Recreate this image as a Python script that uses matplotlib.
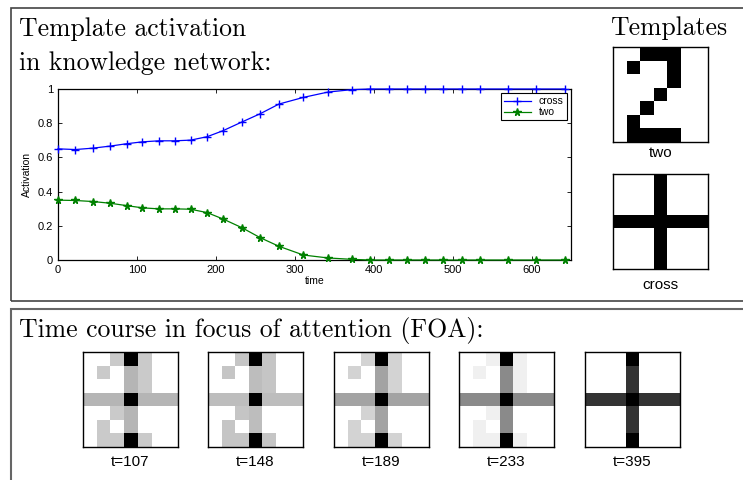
import numpy as np
import matplotlib
matplotlib.use("Agg")
from matplotlib import pyplot as plt
from matplotlib.patches import Rectangle

# activation curves
time = [0, 22, 44, 66, 87, 107, 128, 148, 168, 189, 209, 233, 256, 280, 311, 342,
        372, 395, 419, 442, 465, 488, 512, 535, 570, 606, 642]
act_cross = [0.650, 0.646, 0.654, 0.666, 0.680, 0.691, 0.697, 0.697, 0.701, 0.721,
             0.756, 0.807, 0.855, 0.912, 0.951, 0.982, 0.996, 1.0, 1.0, 1.0, 1.0,
             1.0, 1.0, 1.0, 1.0, 1.0, 1.0]
act_two = [0.350, 0.348, 0.342, 0.332, 0.318, 0.305, 0.299, 0.299, 0.297, 0.277,
           0.240, 0.189, 0.131, 0.080, 0.029, 0.012, 0.004, 0.0, 0.0, 0.0, 0.0,
           0.0, 0.0, 0.0, 0.0, 0.0, 0.0]

# 7x7 templates, 1 = black pixel
tmpl_two = [[0, 0, 1, 1, 1, 0, 0],
            [0, 1, 0, 0, 1, 0, 0],
            [0, 0, 0, 0, 1, 0, 0],
            [0, 0, 0, 1, 0, 0, 0],
            [0, 0, 1, 0, 0, 0, 0],
            [0, 1, 0, 0, 0, 0, 0],
            [0, 1, 1, 1, 1, 0, 0]]
tmpl_cross = [[0, 0, 0, 1, 0, 0, 0],
              [0, 0, 0, 1, 0, 0, 0],
              [0, 0, 0, 1, 0, 0, 0],
              [1, 1, 1, 1, 1, 1, 1],
              [0, 0, 0, 1, 0, 0, 0],
              [0, 0, 0, 1, 0, 0, 0],
              [0, 0, 0, 1, 0, 0, 0]]

# FOA snapshots: grey level of cross-only and two-only pixels (overlap is black)
foa_times = [107, 148, 189, 233, 395]
foa_cross_grey = [0.71, 0.74, 0.64, 0.54, 0.20]
foa_two_grey = [0.79, 0.77, 0.83, 0.94, 1.0]

W, H = 743, 480
fig = plt.figure(figsize=(W / 100, H / 100), dpi=100)


def px_axes(x0, y0, x1, y1):
    return fig.add_axes([x0 / W, 1 - y1 / H, (x1 - x0) / W, (y1 - y0) / H])


def px_text(x, y, s, **kw):
    fig.text(x / W, 1 - y / H, s, **kw)


SERIF = "cmr10"
SANS = ["Liberation Sans Narrow", "Liberation Sans", "DejaVu Sans"]

# panel frames
fig.patches.append(Rectangle((10.5 / W, 1 - 301 / H), 800 / W, 293 / H, transform=fig.transFigure,
                             fill=False, edgecolor="#444444", linewidth=1.2))
fig.patches.append(Rectangle((10.5 / W, -0.1), 800 / W, 1 - 309 / H + 0.1, transform=fig.transFigure,
                             fill=False, edgecolor="#666666", linewidth=1.5))

px_text(19, 36, "Template activation", family=SERIF, fontsize=18.5, va="baseline")
px_text(19, 70, "in knowledge network:", family=SERIF, fontsize=18.5, va="baseline")
px_text(669, 35, "Templates", family=SERIF, fontsize=18.5, va="baseline", ha="center")
px_text(19, 337, "Time course in focus of attention (FOA):", family=SERIF, fontsize=18.5, va="baseline")

# activation plot
ax = px_axes(58, 89, 571, 260)
ax.plot(time, act_cross, color="#0000ff", marker="+", markersize=6, linewidth=0.9,
        label="cross", clip_on=False, zorder=3)
ax.plot(time, act_two, color="#008000", marker="*", markersize=5.5, linewidth=0.9,
        label="two", clip_on=False, zorder=3)
ax.set_xlim(0, 650)
ax.set_ylim(0, 1)
ax.set_xticks([0, 100, 200, 300, 400, 500, 600])
ax.set_yticks([0, 0.2, 0.4, 0.6, 0.8, 1])
ax.set_yticklabels(["0", "0.2", "0.4", "0.6", "0.8", "1"])
ax.tick_params(direction="in", top=True, right=True, labelsize=8, length=3, width=0.6)
for lab in ax.get_xticklabels() + ax.get_yticklabels():
    lab.set_family(SANS)
for sp in ax.spines.values():
    sp.set_linewidth(0.9)
ax.set_xlabel("time", family=SANS, fontsize=7.5, labelpad=1)
ax.set_ylabel("Activation", family=SANS, fontsize=7.5, labelpad=4)
leg = ax.legend(loc="upper right", prop={"family": SANS, "size": 7.5}, fancybox=False,
                edgecolor="black", framealpha=1, borderpad=0.3, handlelength=2.5,
                labelspacing=0.1, borderaxespad=0.4)
leg.get_frame().set_linewidth(0.8)
leg.set_zorder(5)


def draw_grid(x0, y0, img):
    a = px_axes(x0, y0, x0 + 95, y0 + 95)
    a.imshow(img, cmap="gray", vmin=0, vmax=1, interpolation="nearest", aspect="auto")
    a.set_xticks([])
    a.set_yticks([])
    for sp in a.spines.values():
        sp.set_linewidth(1.0)
    return a


two = np.array(tmpl_two)
cross = np.array(tmpl_cross)

draw_grid(613, 47, 1 - two)
px_text(660.5, 153, "two", family=SANS, fontsize=11, ha="center", va="center")
draw_grid(613, 174, 1 - cross)
px_text(660.5, 285, "cross", family=SANS, fontsize=11, ha="center", va="center")

foa_x = [83, 208, 334, 459, 585]
for xi, t, cg, tg in zip(foa_x, foa_times, foa_cross_grey, foa_two_grey):
    img = np.ones((7, 7))
    img[two == 1] = tg
    img[cross == 1] = cg
    img[(two == 1) & (cross == 1)] = 0
    draw_grid(xi, 352, img)
    px_text(xi + 47.5, 462, f"t={t}", family=SANS, fontsize=11, ha="center", va="center")

fig.savefig("out.png", dpi=100)
